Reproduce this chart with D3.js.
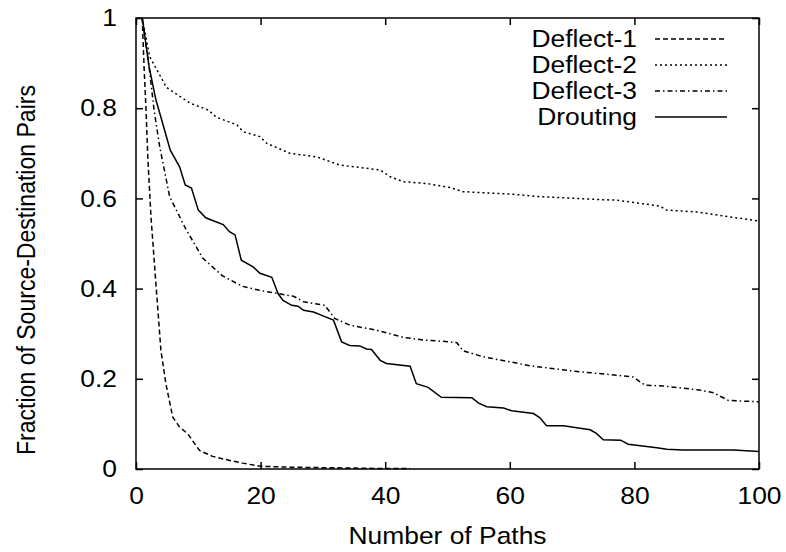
<!DOCTYPE html>
<html>
<head>
<meta charset="utf-8">
<script src="https://cdn.jsdelivr.net/npm/d3@7/dist/d3.min.js"></script>
<style>
  html, body { margin: 0; padding: 0; background: #fff; }
  svg { display: block; }
  text { font-family: "Liberation Sans", Arial, Helvetica, sans-serif; fill: #000; }
</style>
</head>
<body>
<svg id="chart" width="786" height="552"></svg>
<script>
// ---- data ----
const seriesNames = ["Deflect-1", "Deflect-2", "Deflect-3", "Drouting"];

const deflect1X = [1, 1.3, 1.6, 1.9, 2.4, 3.2, 4.0, 4.8, 5.9, 7.0, 8.3, 10.2, 12.3, 14.4, 17.1, 20, 25, 30, 35, 40, 44];
const deflect1Y = [1.0, 0.89, 0.80, 0.69, 0.56, 0.41, 0.263, 0.189, 0.115, 0.093, 0.078, 0.041, 0.028, 0.021, 0.013, 0.006, 0.004, 0.003, 0.002, 0.001, 0.001];

const deflect2X = [1, 2.2, 4.9, 8.7, 11.6, 12.9, 16.2, 17.2, 19.9, 21.0, 24.7, 29.0, 32.7, 39.2, 40.8, 42.9, 46.7, 50.4, 52.5, 60.6, 64.8, 73.4, 77.2, 79.3, 84.1, 85.2, 90.0, 95.3, 100];
const deflect2Y = [1.0, 0.914, 0.846, 0.811, 0.796, 0.780, 0.763, 0.748, 0.737, 0.722, 0.700, 0.692, 0.674, 0.663, 0.648, 0.637, 0.633, 0.624, 0.615, 0.609, 0.604, 0.598, 0.596, 0.592, 0.583, 0.574, 0.570, 0.559, 0.550];

const deflect3X = [1, 2.1, 2.9, 3.8, 5.4, 8.0, 10.7, 13.9, 17.1, 19.9, 22.8, 25.3, 26.9, 30.3, 31.9, 34.3, 38.6, 42.9, 46.1, 50.4, 51.5, 52.5, 55.7, 59.5, 63.2, 70.2, 75.6, 79.8, 81.7, 84.6, 90.5, 92.7, 95.1, 100];
const deflect3Y = [1.0, 0.892, 0.796, 0.715, 0.604, 0.532, 0.468, 0.428, 0.405, 0.396, 0.389, 0.383, 0.371, 0.363, 0.334, 0.319, 0.308, 0.292, 0.286, 0.282, 0.280, 0.262, 0.249, 0.239, 0.229, 0.217, 0.210, 0.204, 0.186, 0.184, 0.175, 0.169, 0.152, 0.149];

const droutingX = [1, 2.1, 3.2, 3.9, 5.5, 7.0, 7.9, 8.9, 10.0, 11.2, 12.5, 14.0, 15.0, 15.9, 16.9, 18.8, 19.9, 21.8, 22.8, 23.6, 25.0, 26.0, 26.9, 28.5, 30.1, 31.7, 33.0, 34.3, 35.9, 37.0, 37.8, 39.2, 40.2, 44.0, 45.0, 46.9, 49.0, 53.9, 55.0, 56.3, 59.0, 60.3, 63.8, 64.8, 65.9, 68.6, 72.9, 73.9, 75.0, 77.8, 79.0, 83.6, 85.2, 87.8, 95.9, 100];
const droutingY = [1.0, 0.892, 0.818, 0.785, 0.707, 0.670, 0.630, 0.623, 0.574, 0.557, 0.550, 0.542, 0.526, 0.519, 0.463, 0.448, 0.434, 0.425, 0.389, 0.374, 0.363, 0.361, 0.352, 0.348, 0.339, 0.330, 0.282, 0.274, 0.273, 0.266, 0.265, 0.241, 0.234, 0.228, 0.189, 0.181, 0.159, 0.158, 0.146, 0.138, 0.135, 0.129, 0.123, 0.114, 0.096, 0.096, 0.087, 0.079, 0.065, 0.064, 0.055, 0.047, 0.044, 0.042, 0.042, 0.039];

const xTicks = [0, 20, 40, 60, 80, 100];
const yTicks = [0, 0.2, 0.4, 0.6, 0.8, 1];
const xTitle = "Number of Paths";
const yTitle = "Fraction of Source-Destination Pairs";

// ---- layout ----
const W = 786, H = 552;
const margin = { left: 136, right: 27, top: 18, bottom: 83 };
const iw = W - margin.left - margin.right;
const ih = H - margin.top - margin.bottom;
const fontSize = 24;
const sx = 1.1; // glyphs in the reference are a little wider than tall

const svg = d3.select("#chart");
const g = svg.append("g").attr("transform", `translate(${margin.left},${margin.top})`);

const x = d3.scaleLinear().domain([0, 100]).range([0, iw]);
const y = d3.scaleLinear().domain([0, 1]).range([ih, 0]);

const fmtY = d => (d === 0 ? "0" : d === 1 ? "1" : d3.format(".1f")(d));

// stretch text horizontally around its anchor point
function stretch(sel) {
  sel.each(function () {
    const t = d3.select(this);
    const tx = +t.attr("x") || 0, ty = +t.attr("y") || 0;
    t.attr("x", 0).attr("y", 0)
      .attr("transform", `translate(${tx},${ty}) scale(${sx},1)`);
  });
}

// axes (ticks inward, mirrored on all sides)
const axB = g.append("g").attr("transform", `translate(0,${ih})`)
  .call(d3.axisBottom(x).tickValues(xTicks).tickSize(-7).tickPadding(18).tickFormat(d3.format("d")));
const axL = g.append("g")
  .call(d3.axisLeft(y).tickValues(yTicks).tickSize(-7).tickPadding(19).tickFormat(fmtY));
const axT = g.append("g")
  .call(d3.axisTop(x).tickValues(xTicks).tickSize(-7).tickFormat(""));
const axR = g.append("g").attr("transform", `translate(${iw},0)`)
  .call(d3.axisRight(y).tickValues(yTicks).tickSize(-7).tickFormat(""));

[axB, axL, axT, axR].forEach(a => {
  a.select(".domain").remove();
  a.selectAll(".tick line").attr("stroke", "#000").attr("stroke-width", 1.5);
  a.selectAll(".tick text").attr("font-size", fontSize)
    .attr("font-family", '"Liberation Sans", Arial, sans-serif').attr("fill", "#000");
});
stretch(axB.selectAll(".tick text"));
stretch(axL.selectAll(".tick text"));

// frame
g.append("rect").attr("x", 0).attr("y", 0).attr("width", iw).attr("height", ih)
  .attr("fill", "none").attr("stroke", "#000").attr("stroke-width", 1.5);

// series
const dashes = ["5,3", "2,3", "5,3,1.5,3", null];
const seriesData = [
  deflect1X.map((v, i) => [v, deflect1Y[i]]),
  deflect2X.map((v, i) => [v, deflect2Y[i]]),
  deflect3X.map((v, i) => [v, deflect3Y[i]]),
  droutingX.map((v, i) => [v, droutingY[i]])
];
const line = d3.line().x(d => x(d[0])).y(d => y(d[1]));

seriesData.forEach((data, i) => {
  g.append("path").datum(data)
    .attr("d", line)
    .attr("fill", "none")
    .attr("stroke", "#000")
    .attr("stroke-width", 1.5)
    .attr("stroke-dasharray", dashes[i]);
});

// legend
const legX = 637 - margin.left, legRow0 = 39 - margin.top, legStep = 26;
seriesNames.forEach((name, i) => {
  const yy = legRow0 + i * legStep;
  g.append("text").attr("x", legX).attr("y", yy).attr("dy", "0.35em")
    .attr("text-anchor", "end").attr("font-size", fontSize).text(name)
    .call(stretch);
  g.append("line").attr("x1", legX + 18).attr("x2", legX + 90)
    .attr("y1", yy).attr("y2", yy)
    .attr("stroke", "#000").attr("stroke-width", 1.5)
    .attr("stroke-dasharray", dashes[i]);
});

// axis titles
svg.append("text").attr("x", margin.left + iw / 2).attr("y", 544)
  .attr("text-anchor", "middle").attr("font-size", fontSize).text(xTitle)
  .call(stretch);
svg.append("text")
  .attr("transform", `translate(35,270) rotate(-90) scale(0.96,${sx})`)
  .attr("text-anchor", "middle").attr("font-size", fontSize).text(yTitle);
</script>
</body>
</html>
